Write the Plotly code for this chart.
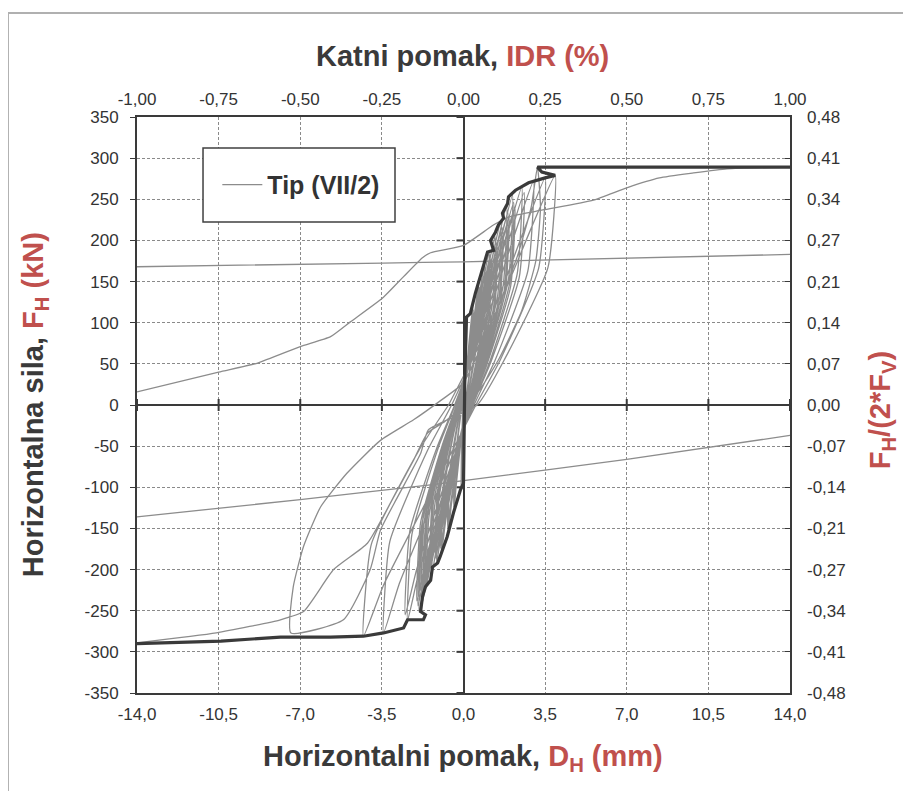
import plotly.graph_objects as go

# ---------------- data ----------------
# axis ticks
x_ticks = [-14.0, -10.5, -7.0, -3.5, 0.0, 3.5, 7.0, 10.5, 14.0]
x_bottom_labels = ["-14,0", "-10,5", "-7,0", "-3,5", "0,0", "3,5", "7,0", "10,5", "14,0"]
x_top_labels = ["-1,00", "-0,75", "-0,50", "-0,25", "0,00", "0,25", "0,50", "0,75", "1,00"]
y_ticks = [-350, -300, -250, -200, -150, -100, -50, 0, 50, 100, 150, 200, 250, 300, 350]
y_left_labels = ["-350", "-300", "-250", "-200", "-150", "-100", "-50", "0",
                 "50", "100", "150", "200", "250", "300", "350"]
y_right_labels = ["-0,48", "-0,41", "-0,34", "-0,27", "-0,21", "-0,14", "-0,07", "0,00",
                  "0,07", "0,14", "0,21", "0,27", "0,34", "0,41", "0,48"]

# small hysteresis cycles (D_H in mm, F_H in kN)
cyc_x = [0.0,
         0.05, 0.10, 0.13, 0.12, 0.06, 0.02, -0.04, -0.08, -0.10, -0.09, -0.05, -0.02,
         0.14, 0.30, 0.40, 0.37, 0.18, 0.06, -0.14, -0.32, -0.40, -0.37, -0.18, -0.06,
         0.15, 0.32, 0.42, 0.39, 0.19, 0.06, -0.15, -0.34, -0.42, -0.39, -0.19, -0.06,
         0.23, 0.49, 0.65, 0.60, 0.29, 0.10, -0.23, -0.52, -0.65, -0.60, -0.29, -0.10,
         0.24, 0.51, 0.68, 0.63, 0.31, 0.10, -0.24, -0.54, -0.68, -0.63, -0.31, -0.10,
         0.32, 0.68, 0.90, 0.83, 0.41, 0.14, -0.33, -0.76, -0.95, -0.87, -0.43, -0.14,
         0.33, 0.70, 0.93, 0.86, 0.42, 0.14, -0.34, -0.78, -0.98, -0.90, -0.44, -0.15,
         0.39, 0.83, 1.10, 1.01, 0.50, 0.17, -0.40, -0.92, -1.15, -1.06, -0.52, -0.17,
         0.40, 0.86, 1.14, 1.05, 0.51, 0.17, -0.41, -0.94, -1.18, -1.09, -0.53, -0.18,
         0.42, 0.90, 1.20, 1.10, 0.54, 0.18, -0.43, -0.98, -1.22, -1.12, -0.55, -0.18,
         0.47, 1.01, 1.35, 1.24, 0.61, 0.20, -0.47, -1.08, -1.35, -1.24, -0.61, -0.20,
         0.49, 1.05, 1.40, 1.29, 0.63, 0.21, -0.49, -1.12, -1.40, -1.29, -0.63, -0.21,
         0.51, 1.09, 1.45, 1.33, 0.65, 0.22, -0.51, -1.16, -1.45, -1.33, -0.65, -0.22,
         0.56, 1.20, 1.60, 1.47, 0.72, 0.24, -0.56, -1.28, -1.60, -1.47, -0.72, -0.24,
         0.58, 1.24, 1.65, 1.52, 0.74, 0.25, -0.58, -1.32, -1.65, -1.52, -0.74, -0.25,
         0.60, 1.28, 1.70, 1.56, 0.77, 0.26, -0.60, -1.36, -1.70, -1.56, -0.77, -0.26,
         0.65, 1.39, 1.85, 1.70, 0.83, 0.28, -0.62, -1.41, -1.76, -1.62, -0.79, -0.26,
         0.67, 1.43, 1.90, 1.75, 0.86, 0.29, -0.64, -1.46, -1.82, -1.67, -0.82, -0.27,
         0.68, 1.46, 1.95, 1.79, 0.88, 0.29, -0.66, -1.50, -1.88, -1.73, -0.85, -0.28,
         0.74, 1.58, 2.10, 1.93, 0.95, 0.32, -0.67, -1.52, -1.90, -1.75, -0.86, -0.29,
         0.75, 1.61, 2.15, 1.98, 0.97, 0.32, -0.68, -1.56, -1.95, -1.79, -0.88, -0.29,
         0.77, 1.65, 2.20, 2.02, 0.99, 0.33, -0.70, -1.60, -2.00, -1.84, -0.90, -0.30,
         0.88, 1.88, 2.50, 2.30, 1.13, 0.38, -0.84, -1.92, -2.40, -2.21, -1.08, -0.36,
         0.91, 1.95, 2.60, 2.39, 1.17, 0.39, -0.88, -2.00, -2.50, -2.30, -1.13, -0.38,
         1.05, 2.25, 3.00, 2.76, 1.35, 0.45, -1.20, -2.74, -3.43, -3.16, -1.54, -0.51,
         1.23, 2.63, 3.50, 3.22, 1.58, 0.53, -1.50, -3.43, -4.29, -3.95, -1.93, -0.64]
cyc_y = [0,
         40, 78, 100, 60, 20, 0, -40, -78, -100, -60, -20, 0,
         48, 94, 120, 72, 24, 0, -51, -100, -128, -77, -26, 0,
         46, 90, 116, 70, 23, 0, -50, -97, -124, -74, -25, 0,
         59, 115, 148, 89, 30, 0, -62, -121, -155, -93, -31, 0,
         57, 112, 143, 86, 29, 0, -60, -117, -150, -90, -30, 0,
         69, 134, 172, 103, 34, 0, -72, -140, -180, -108, -36, 0,
         66, 129, 166, 100, 33, 0, -70, -136, -174, -104, -35, 0,
         75, 147, 188, 113, 38, 0, -77, -150, -192, -115, -38, 0,
         73, 142, 182, 109, 36, 0, -74, -145, -186, -112, -37, 0,
         71, 139, 178, 107, 36, 0, -72, -140, -180, -108, -36, 0,
         82, 160, 205, 123, 41, 0, -82, -160, -205, -123, -41, 0,
         79, 154, 198, 119, 40, 0, -79, -154, -198, -119, -40, 0,
         77, 150, 192, 115, 38, 0, -77, -150, -192, -115, -38, 0,
         90, 175, 224, 134, 45, 0, -89, -173, -222, -133, -44, 0,
         86, 168, 216, 130, 43, 0, -86, -168, -215, -129, -43, 0,
         84, 164, 210, 126, 42, 0, -83, -162, -208, -125, -42, 0,
         97, 189, 242, 145, 48, 0, -96, -187, -240, -144, -48, 0,
         94, 183, 234, 140, 47, 0, -93, -181, -232, -139, -46, 0,
         91, 178, 228, 137, 46, 0, -90, -176, -226, -136, -45, 0,
         102, 199, 255, 153, 51, 0, -101, -197, -252, -151, -50, 0,
         98, 192, 246, 148, 49, 0, -98, -190, -244, -146, -49, 0,
         96, 187, 240, 144, 48, 0, -95, -186, -238, -143, -48, 0,
         106, 207, 265, 159, 53, 0, -105, -204, -262, -157, -52, 0,
         103, 201, 258, 155, 52, 0, -102, -199, -255, -153, -51, 0,
         109, 212, 272, 163, 54, 0, -111, -216, -277, -166, -55, 0,
         110, 215, 276, 166, 55, 0, -112, -219, -281, -169, -56, 0]

# larger cycles up to the -14 mm excursion
big_x = [-0.64, 1.38, 2.95, 3.93, 3.62, 1.77, 0.59, -1.5, -1.84, -2.83, -3.56, -4.0, -5.15, -7.4,
         -7.3, -6.86, -6.13, -5.0, -3.56, -2.14, -1.0, 0.0, 1.2, 2.3, 2.9, 3.17,
         3.3, 3.1, 2.5, 1.5, 0.6, -0.8, -1.54, -2.14, -3.13, -4.12, -5.57, -6.86, -7.85, -10.6, -14.0]
big_y = [0, 112, 218, 279, 167, 56, 0, -30, -59, -112, -152, -200, -261, -277,
         -221, -172, -124, -83, -43, -18, 5, 27, 100, 180, 240, 289,
         240, 175, 115, 55, 15, -20, -34, -67, -119, -168, -200, -251, -261, -277, -289]

# reloading branch from the left edge to +14 mm
reload_x = [-14.0, -10.5, -8.83, -7.0, -5.7, -4.85, -3.47, -2.57, -1.76, -1.41, 0.0,
            1.3, 2.0, 3.4, 5.57, 7.0, 8.4, 9.86, 11.3, 14.0]
reload_y = [16, 40, 51, 71, 83, 101, 130, 156, 179, 185, 194,
            219, 229, 237, 249, 264, 276, 282, 287, 289]

# nearly straight branches crossing the full width
upper_branch_x = [-14.0, -3.47, 0.0, 14.0]
upper_branch_y = [168, 172.5, 174, 183]
lower_branch_x = [-14.0, -7.0, -1.41, 0.0, 7.0, 14.0]
lower_branch_y = [-136, -115, -97, -92, -66, -37]

# envelope (thick line)
env_x = [-14.0, -10.4, -7.85, -5.7, -4.29, -3.43, -2.57, -2.4, -1.72, -1.63, -1.84, -1.76,
         -1.63, -1.41, -1.33, -1.11, -1.0, -0.7, -0.43, -0.13, 0.0, 0.02, 0.06, 0.13, 0.29,
         0.51, 0.81, 1.03, 1.29, 1.16, 1.37, 1.5, 1.72, 1.67, 1.89, 1.93, 2.23, 2.79, 3.5,
         3.93, 3.36, 3.17, 14.0]
env_y = [-290, -287, -282, -282, -281, -277, -271, -261, -261, -255, -251, -233,
         -221, -213, -197, -192, -184, -160, -131, -103, -95, -30, 40, 107, 111,
         136, 164, 186, 188, 200, 210, 219, 227, 233, 245, 253, 261, 270, 276,
         279, 283, 289, 289]

# ---------------- styling ----------------
FONT = "Liberation Sans, Arial, sans-serif"
DARK = "#3a3a3a"
RED = "#c0504d"
GRID = "#8a8a8a"
THIN = "#8c8c8c"

thin_x = cyc_x + big_x + [None] + reload_x + [None] + upper_branch_x + [None] + lower_branch_x
thin_y = cyc_y + big_y + [None] + reload_y + [None] + upper_branch_y + [None] + lower_branch_y

fig = go.Figure()
fig.add_trace(go.Scatter(x=thin_x, y=thin_y, mode="lines", name="<b>Tip (VII/2)</b>",
                         line=dict(color=THIN, width=1.3, shape="spline", smoothing=0.5),
                         connectgaps=False, hoverinfo="skip"))
fig.add_trace(go.Scatter(x=env_x, y=env_y, mode="lines", showlegend=False,
                         line=dict(color=DARK, width=3.2), hoverinfo="skip"))
# carriers for the secondary axes
fig.add_trace(go.Scatter(x=[None], y=[None], xaxis="x2", yaxis="y", showlegend=False))
fig.add_trace(go.Scatter(x=[None], y=[None], xaxis="x", yaxis="y2", showlegend=False))

tickfont = dict(family=FONT, size=17, color="#333333")
common_grid = dict(showgrid=True, gridcolor=GRID, gridwidth=1, griddash="3px,2px")

# page body has an 8px margin: figure is 903x783 placed at (8, 8)
fig.update_layout(
    width=903, height=783,
    margin=dict(l=129, r=121, t=109, b=98),
    paper_bgcolor="white", plot_bgcolor="white",
    xaxis=dict(range=[-14, 14], tickmode="array", tickvals=x_ticks, ticktext=x_bottom_labels,
               zeroline=True, zerolinecolor=DARK, zerolinewidth=2,
               showline=True, linecolor=DARK, linewidth=2, mirror=True,
               ticks="", tickfont=tickfont, ticklabelstandoff=5, **common_grid),
    xaxis2=dict(range=[-14, 14], overlaying="x", side="top", anchor="y",
                tickmode="array", tickvals=x_ticks, ticktext=x_top_labels,
                showgrid=False, zeroline=False, showline=False, ticks="",
                tickfont=tickfont, ticklabelstandoff=8),
    yaxis=dict(range=[-350, 350], tickmode="array", tickvals=y_ticks, ticktext=y_left_labels,
               zeroline=True, zerolinecolor=DARK, zerolinewidth=2,
               showline=True, linecolor=DARK, linewidth=2, mirror=True,
               ticks="outside", ticklen=5, tickcolor=DARK, tickfont=tickfont,
               ticklabelstandoff=8, **common_grid),
    yaxis2=dict(range=[-350, 350], overlaying="y", side="right", anchor="x",
                tickmode="array", tickvals=y_ticks, ticktext=y_right_labels,
                showgrid=False, zeroline=False, showline=False,
                ticks="inside", ticklen=5, tickcolor=DARK, tickfont=tickfont,
                ticklabelstandoff=16),
    showlegend=True,
    legend=dict(x=0.123, y=0.882, xanchor="left", yanchor="middle",
                bgcolor="rgba(0,0,0,0)", borderwidth=0, itemwidth=40,
                font=dict(family=FONT, size=25, color="#333333")),
)

shapes = []
# ticks on the zero axes
for v in y_ticks:
    shapes.append(dict(type="line", xref="x", yref="y", xsizemode="pixel", xanchor=0,
                       x0=-7, x1=0, y0=v, y1=v, line=dict(color=DARK, width=2), layer="between"))
for v in x_ticks:
    shapes.append(dict(type="line", xref="x", yref="y", ysizemode="pixel", yanchor=0,
                       y0=-6, y1=6, x0=v, x1=v, line=dict(color=DARK, width=2), layer="between"))
# legend box
shapes.append(dict(type="rect", xref="paper", yref="paper", x0=0.1011, x1=0.3951,
                   y0=0.8177, y1=0.9462, line=dict(color="#404040", width=1.5),
                   fillcolor="white", layer="above"))
# outer chart border
shapes.append(dict(type="rect", xref="paper", yref="paper", x0=-0.1976, x1=1.19,
                   y0=-0.177, y1=1.1806, line=dict(color="#b0b0b0", width=2),
                   fillcolor="rgba(0,0,0,0)", layer="below"))
fig.update_layout(shapes=shapes)

title_font = dict(family=FONT, size=29, color=DARK)
annotations = [
    dict(text=f"<b>Katni pomak, <span style='color:{RED}'>IDR (%)</span></b>",
         xref="paper", yref="paper", x=0.499, y=1.106, xanchor="center", yanchor="middle",
         showarrow=False, font=title_font),
    dict(text=f"<b>Horizontalni pomak, <span style='color:{RED}'>D<sub>H</sub> (mm)</span></b>",
         xref="paper", yref="paper", x=0.499, y=-0.113, xanchor="center", yanchor="middle",
         showarrow=False, font=title_font),
    dict(text=f"<b>Horizontalna sila, <span style='color:{RED}'>F<sub>H</sub> (kN)</span></b>",
         xref="paper", yref="paper", x=-0.156, y=0.5, xanchor="center", yanchor="middle",
         textangle=-90, showarrow=False, font=title_font),
    dict(text=f"<b><span style='color:{RED}'>F<sub>H</sub>/(2*F<sub>V</sub>)</span></b>",
         xref="paper", yref="paper", x=1.141, y=0.491, xanchor="center", yanchor="middle",
         textangle=-90, showarrow=False, font=title_font),
]
fig.update_layout(annotations=annotations)

fig.write_html("out.html")
